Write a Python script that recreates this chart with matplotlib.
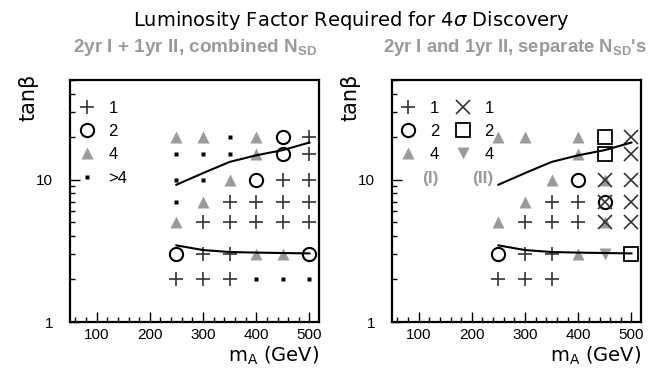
import matplotlib
matplotlib.use("Agg")
import matplotlib.pyplot as plt
from matplotlib.lines import Line2D
from matplotlib.ticker import MultipleLocator, FixedLocator, NullFormatter, FixedFormatter, LogLocator

plt.rcParams['font.family'] = ['Liberation Sans', 'DejaVu Sans']

# ---- data ----
mA = [250, 300, 350, 400, 450, 500]
tanb = [20, 15, 10, 7, 5, 3, 2]

# combined N_SD: luminosity factor (5 means ">4")
combined = [
    [4, 4, 5, 4, 2, 1],   # tanb 20
    [5, 5, 5, 4, 2, 1],   # 15
    [5, 5, 4, 2, 1, 1],   # 10
    [5, 4, 1, 1, 1, 1],   # 7
    [4, 1, 1, 1, 1, 1],   # 5
    [2, 1, 1, 4, 4, 2],   # 3
    [1, 1, 1, 5, 5, 5],   # 2
]
# separate N_SD: period (I) and period (II) factors (0 = none)
sep_I = [
    [4, 4, 0, 4, 0, 0],
    [0, 0, 0, 4, 0, 0],
    [0, 0, 4, 2, 4, 0],
    [0, 4, 1, 1, 2, 0],
    [4, 1, 1, 1, 4, 0],
    [2, 1, 1, 4, 0, 0],
    [1, 1, 1, 0, 0, 0],
]
sep_II = [
    [0, 0, 0, 0, 2, 1],
    [0, 0, 0, 0, 2, 1],
    [0, 0, 0, 0, 1, 1],
    [0, 0, 0, 0, 1, 1],
    [0, 0, 0, 0, 1, 1],
    [0, 0, 0, 0, 4, 2],
    [0, 0, 0, 0, 0, 0],
]
upper_tanb = [9.2, 11.1, 13.3, 14.8, 16.1, 18.2]
lower_tanb = [3.45, 3.2, 3.1, 3.07, 3.05, 3.03]

legend_left_labels = ['1', '2', '4', '>4']
legend_right_labels = ['1', '2', '4', '1', '2', '4']

# ---- styles ----
GRAY = '#9a9a9a'
DARK = '#333333'
styles_I = {
    1: dict(marker='+', ms=10, mew=1.2, color=DARK, zorder=3),
    2: dict(marker='o', ms=9.5, mew=1.5, mfc='none', mec='black', zorder=3),
    4: dict(marker='^', ms=8, color=GRAY, mec='none', zorder=2),
    5: dict(marker='s', ms=2.6, color='black', mec='none', zorder=3),
}
styles_II = {
    1: dict(marker='x', ms=9.5, mew=1.2, color=DARK, zorder=3),
    2: dict(marker='s', ms=10, mew=1.3, mfc='none', mec='black', zorder=3),
    4: dict(marker='v', ms=8, color=GRAY, mec='none', zorder=2),
}

fig = plt.figure(figsize=(6.54, 3.68), dpi=100)
W, H = 654, 368
axL = fig.add_axes([70 / W, 46 / H, 249 / W, 242 / H])
axR = fig.add_axes([392 / W, 46 / H, 249 / W, 242 / H])


def plot_grid(ax, grid, styles):
    for code, st in styles.items():
        xs, ys = [], []
        for i, row in enumerate(grid):
            for j, v in enumerate(row):
                if v == code:
                    xs.append(mA[j])
                    ys.append(tanb[i])
        if xs:
            ax.plot(xs, ys, linestyle='none', **st)


def setup(ax):
    ax.set_yscale('log')
    ax.set_xlim(50, 518)
    ax.set_ylim(1, 50)
    ax.xaxis.set_major_locator(MultipleLocator(100))
    ax.xaxis.set_minor_locator(MultipleLocator(20))
    ax.yaxis.set_major_locator(FixedLocator([1, 10]))
    ax.yaxis.set_major_formatter(FixedFormatter(['1', '10']))
    ax.yaxis.set_minor_locator(LogLocator(subs=range(2, 10)))
    ax.yaxis.set_minor_formatter(NullFormatter())
    ax.tick_params(which='both', direction='in', top=False, right=False,
                   labelsize=11)
    ax.tick_params(which='major', length=7, width=1)
    ax.tick_params(which='minor', length=3.5, width=1)
    ax.tick_params(axis='y', pad=12)
    ax.tick_params(axis='x', pad=4)
    for s in ax.spines.values():
        s.set_linewidth(1.6)
    ax.plot(mA, upper_tanb, color='black', lw=1.5, zorder=4)
    ax.plot(mA, lower_tanb, color='black', lw=1.5, zorder=4)
    ax.set_xlabel(r'm$_{\mathregular{A}}$ (GeV)', fontsize=14,
                  family='DejaVu Sans', loc='right', labelpad=2)
    ax.set_ylabel('tanβ', fontsize=15, family='DejaVu Sans')
    ax.yaxis.set_label_coords(-0.125, 0.93)


for ax in (axL, axR):
    setup(ax)

plot_grid(axL, combined, styles_I)
plot_grid(axR, sep_I, styles_I)
plot_grid(axR, sep_II, styles_II)

# legends
hL = [Line2D([], [], linestyle='none', **styles_I[k]) for k in (1, 2, 4, 5)]
axL.legend(hL, legend_left_labels, loc='upper left', bbox_to_anchor=(0.034, 0.915),
           frameon=False, borderpad=0, borderaxespad=0, handlelength=1.0,
           handletextpad=0.8, labelspacing=0.5, fontsize=12)
hR = ([Line2D([], [], linestyle='none', **styles_I[k]) for k in (1, 2, 4)] +
      [Line2D([], [], linestyle='none', **styles_II[k]) for k in (1, 2, 4)])
axR.legend(hR, legend_right_labels, loc='upper left', bbox_to_anchor=(0.032, 0.915),
           ncol=2, frameon=False, borderpad=0, borderaxespad=0, handlelength=1.0,
           handletextpad=0.8, labelspacing=0.5, columnspacing=0.9, fontsize=12)
axR.text(0.153, 0.595, '(I)', transform=axR.transAxes, ha='center', va='center',
         color=GRAY, fontsize=12.5, fontweight='bold')
axR.text(0.364, 0.595, '(II)', transform=axR.transAxes, ha='center', va='center',
         color=GRAY, fontsize=12.5, fontweight='bold')

# titles
fig.text(351 / W, 1 - 20 / H, r'Luminosity Factor Required for 4$\sigma$ Discovery',
         ha='center', va='center', fontsize=14, family='DejaVu Sans')
fig.text(195 / W, 1 - 47 / H, r'2yr I + 1yr II, combined N$_{\mathregular{SD}}$',
         ha='center', va='center', fontsize=13.7, fontweight='bold', color=GRAY)
fig.text(515 / W, 1 - 47 / H, r"2yr I and 1yr II, separate N$_{\mathregular{SD}}$'s",
         ha='center', va='center', fontsize=13.3, fontweight='bold', color=GRAY)

fig.savefig('out.png', dpi=100)
